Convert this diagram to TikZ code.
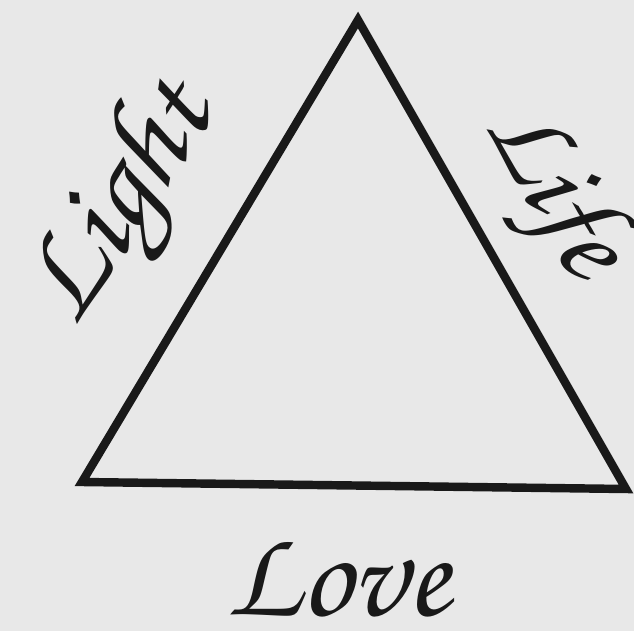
\documentclass[tikz,border=0pt]{standalone}
\usepackage[T1]{fontenc}
\begin{document}
\begin{tikzpicture}[x=0.01cm,y=-0.01cm,
  edge/.style={line width=2.4pt,line join=miter,black!90},
  word/.style={font=\fontfamily{pzc}\fontseries{mb}\fontshape{it}\selectfont\fontsize{#1}{#1}\selectfont,inner sep=0pt,text=black!90}]
\fill[black!9] (0,0) rectangle (634,631);
\useasboundingbox (0,0) rectangle (634,631);
\coordinate (A) at (358,20);
\coordinate (B) at (82,482);
\coordinate (C) at (626,489);
\draw[edge] (A) -- (B) -- (C) -- cycle;
\node[word=37,rotate=57] (light) at (124,206) {Light};
\node[word=35,rotate=-60] (life) at (551,192) {Life};
\node[word=36] (love) at (338,578) {Love};
\end{tikzpicture}
\end{document}
